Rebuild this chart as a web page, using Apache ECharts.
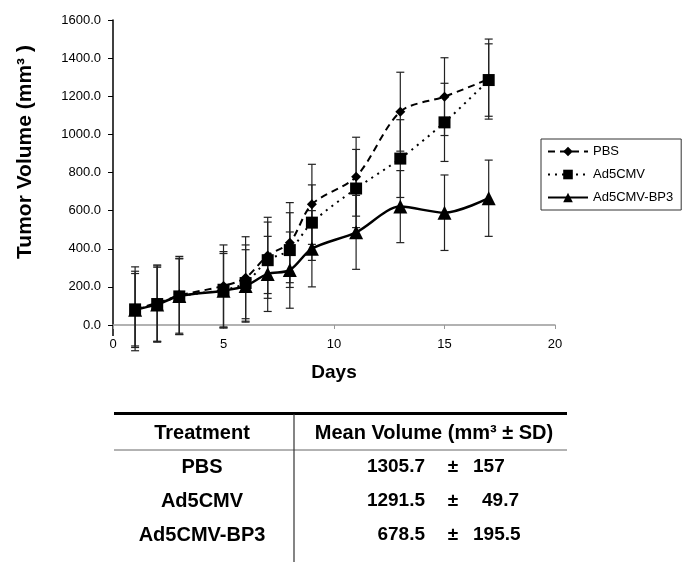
<!DOCTYPE html>
<html>
<head>
<meta charset="utf-8">
<script src="https://cdn.jsdelivr.net/npm/echarts@6/dist/echarts.min.js"></script>
<style>
  html, body { margin: 0; padding: 0; background: #fff; }
  #main { width: 683px; height: 564px; }
</style>
</head>
<body>
<div id="main"></div>
<script>
// days measured
var days = [1, 2, 3, 5, 6, 7, 8, 9, 11, 13, 15, 17];

// mean tumor volume (mm3)
var pbs    = [85, 115, 155, 205, 248, 365, 432, 633, 778, 1119, 1198, 1290];
var ad5cmv = [82, 110, 150, 185, 220, 340, 393, 537, 716, 873, 1063, 1285];
var bp3    = [80, 108, 152, 180, 205, 268, 288, 400, 486, 621, 589, 665];

// SD (error bar half-length)
var pbsSd    = [220, 200, 205, 215, 215, 200, 210, 210, 207, 207, 204, 210];
var ad5cmvSd = [200, 200, 200, 200, 200, 200, 196, 198, 205, 204, 205, 190];
var bp3Sd    = [190, 195, 195, 195, 190, 197, 200, 200, 194, 189, 198, 200];

// table under the chart
var treatments = ['PBS', 'Ad5CMV', 'Ad5CMV-BP3'];
var tableMean  = ['1305.7', '1291.5', '678.5'];
var tableSd    = ['157', '49.7', '195.5'];

var FONT = '"Liberation Sans", Arial, sans-serif';

function pts(vals) {
  return days.map(function (d, i) { return [d, vals[i]]; });
}
function errs(vals, sd) {
  return days.map(function (d, i) { return [d, vals[i] - sd[i], vals[i] + sd[i]]; });
}

function renderErr(params, api) {
  var x = api.value(0);
  var lo = api.coord([x, api.value(1)]);
  var hi = api.coord([x, api.value(2)]);
  var w = 4;
  var st = { stroke: '#222', lineWidth: 1.2 };
  return {
    type: 'group',
    children: [
      { type: 'line', shape: { x1: lo[0], y1: lo[1], x2: hi[0], y2: hi[1] }, style: st },
      { type: 'line', shape: { x1: lo[0] - w, y1: lo[1], x2: lo[0] + w, y2: lo[1] }, style: st },
      { type: 'line', shape: { x1: hi[0] - w, y1: hi[1], x2: hi[0] + w, y2: hi[1] }, style: st }
    ]
  };
}

// extra graphics: y title, axis stub, table
var gfx = [];
gfx.push({
  type: 'text', x: 25, y: 152, rotation: Math.PI / 2,
  style: { text: 'Tumor Volume (mm³ )', font: 'bold 21px ' + FONT, fill: '#000', align: 'center', verticalAlign: 'middle' }
});
// y axis line runs a little past zero in the original
gfx.push({ type: 'line', shape: { x1: 113, y1: 325, x2: 113, y2: 336 }, style: { stroke: '#000', lineWidth: 1.5 } });

var tLeft = 114, tRight = 567, tDiv = 294;
gfx.push({ type: 'rect', shape: { x: tLeft, y: 412, width: tRight - tLeft, height: 3 }, style: { fill: '#000' } });
gfx.push({ type: 'line', shape: { x1: tLeft, y1: 450, x2: tRight, y2: 450 }, style: { stroke: '#666', lineWidth: 1 } });
gfx.push({ type: 'line', shape: { x1: tDiv, y1: 414, x2: tDiv, y2: 562 }, style: { stroke: '#333', lineWidth: 1.2 } });
gfx.push({ type: 'text', x: 202, y: 433, style: { text: 'Treatment', font: 'bold 20px ' + FONT, fill: '#000', align: 'center', verticalAlign: 'middle' } });
gfx.push({ type: 'text', x: 434, y: 433, style: { text: 'Mean Volume (mm³ ± SD)', font: 'bold 20px ' + FONT, fill: '#000', align: 'center', verticalAlign: 'middle' } });
var rowY = [467, 501, 535];
treatments.forEach(function (t, i) {
  gfx.push({ type: 'text', x: 202, y: rowY[i], style: { text: t, font: 'bold 20px ' + FONT, fill: '#000', align: 'center', verticalAlign: 'middle' } });
  gfx.push({ type: 'text', x: 425, y: rowY[i], style: { text: tableMean[i], font: 'bold 19px ' + FONT, fill: '#000', align: 'right', verticalAlign: 'middle' } });
  gfx.push({ type: 'text', x: 453, y: rowY[i], style: { text: '±', font: 'bold 19px ' + FONT, fill: '#000', align: 'center', verticalAlign: 'middle' } });
  gfx.push({ type: 'text', x: tableSd[i] === '49.7' ? 482 : 473, y: rowY[i], style: { text: tableSd[i], font: 'bold 19px ' + FONT, fill: '#000', align: 'left', verticalAlign: 'middle' } });
});

var chart = echarts.init(document.getElementById('main'));
var option = {
  backgroundColor: '#fff',
  animation: false,
  textStyle: { fontFamily: FONT },
  grid: { left: 113, right: 128, top: 20, bottom: 239 },
  legend: {
    data: ['PBS', 'Ad5CMV', 'Ad5CMV-BP3'],
    orient: 'vertical',
    left: 541,
    top: 139,
    padding: [6, 8, 6, 6],
    itemWidth: 40,
    itemHeight: 12,
    itemGap: 10,
    borderColor: '#333',
    borderWidth: 1,
    textStyle: { fontSize: 13, color: '#000', fontFamily: FONT }
  },
  xAxis: {
    type: 'value',
    min: 0,
    max: 20,
    interval: 5,
    name: 'Days',
    nameLocation: 'middle',
    nameGap: 38,
    nameTextStyle: { fontSize: 19, fontWeight: 'bold', color: '#000' },
    axisLine: { onZero: false, lineStyle: { color: '#999', width: 1.5 } },
    axisTick: { show: true, length: 4, lineStyle: { color: '#999' } },
    axisLabel: { fontSize: 13, color: '#000', margin: 13 },
    splitLine: { show: false }
  },
  yAxis: {
    type: 'value',
    min: 0,
    max: 1600,
    interval: 200,
    axisLine: { show: true, lineStyle: { color: '#000', width: 1.5 } },
    axisTick: { show: true, length: 5, lineStyle: { color: '#000' } },
    axisLabel: { fontSize: 13, color: '#000', margin: 12, formatter: function (v) { return v.toFixed(1); } },
    splitLine: { show: false }
  },
  series: [
    { type: 'custom', name: 'errPBS', renderItem: renderErr, data: errs(pbs, pbsSd), z: 1, silent: true },
    { type: 'custom', name: 'errAd5', renderItem: renderErr, data: errs(ad5cmv, ad5cmvSd), z: 1, silent: true },
    { type: 'custom', name: 'errBP3', renderItem: renderErr, data: errs(bp3, bp3Sd), z: 1, silent: true },
    {
      name: 'PBS', type: 'line', data: pts(pbs), smooth: 0.3,
      symbol: 'diamond', symbolSize: 10,
      lineStyle: { color: '#000', width: 2, type: [7, 5] },
      itemStyle: { color: '#000' }, z: 3
    },
    {
      name: 'Ad5CMV', type: 'line', data: pts(ad5cmv), smooth: 0.3,
      symbol: 'rect', symbolSize: 12,
      lineStyle: { color: '#000', width: 2, type: [2, 5] },
      itemStyle: { color: '#000' }, z: 3
    },
    {
      name: 'Ad5CMV-BP3', type: 'line', data: pts(bp3), smooth: 0.3,
      symbol: 'triangle', symbolSize: 14,
      lineStyle: { color: '#000', width: 2.5 },
      itemStyle: { color: '#000' }, z: 3
    }
  ],
  graphic: gfx
};
chart.setOption(option);
</script>
</body>
</html>
